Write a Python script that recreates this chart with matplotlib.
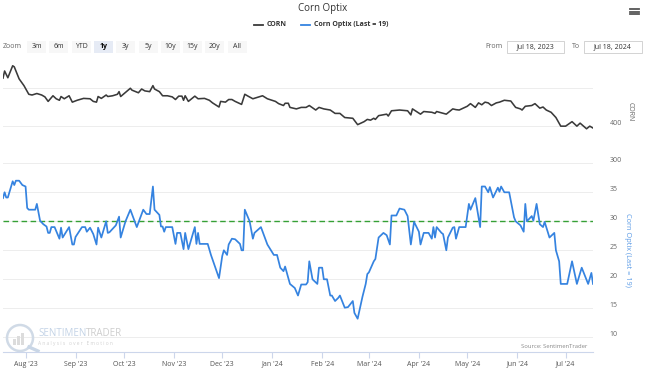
import pandas as pd
import matplotlib
matplotlib.use('Agg')
import matplotlib.pyplot as plt
import matplotlib.dates as mdates
import matplotlib.transforms as mtransforms
from matplotlib.lines import Line2D
from matplotlib.patches import Rectangle, Ellipse

plt.rcParams['font.family'] = ['Open Sans', 'DejaVu Sans']

START = pd.Timestamp('2023-07-18')
END = pd.Timestamp('2024-07-18')

# CORN (panel de arriba), dias desde START
corn_days = [0, 1, 3, 6, 7, 10, 13, 16, 18, 21,
             24, 26, 28, 31, 33, 35, 36, 38, 41, 43,
             46, 50, 54, 56, 58, 59, 61, 64, 65, 68,
             71, 72, 73, 76, 79, 80, 84, 86, 88, 91,
             93, 94, 97, 99, 102, 105, 107, 109, 111, 112,
             113, 115, 117, 119, 121, 125, 128, 130, 134, 135,
             138, 140, 142, 144, 148, 150, 152, 155, 161, 164,
             169, 171, 174, 175, 177, 178, 182, 185, 188, 190,
             194, 196, 199, 203, 206, 209, 212, 217, 220, 224,
             226, 228, 230, 231, 233, 238, 239, 241, 246, 251,
             253, 254, 259, 261, 266, 268, 269, 275, 279, 281,
             283, 288, 290, 293, 295, 297, 299, 301, 303, 306,
             308, 311, 315, 318, 321, 322, 324, 328, 330, 333,
             335, 337, 340, 343, 346, 349, 353, 356, 358, 362,
             364, 366]
corn_close = [527, 546, 528, 560, 557, 525, 507, 484, 482, 486,
              482, 477, 465, 480, 472, 468, 478, 472, 480, 463,
              468, 473, 472, 465, 463, 478, 473, 482, 478, 480,
              484, 491, 478, 489, 500, 495, 488, 498, 493, 491,
              507, 498, 491, 480, 480, 477, 470, 479, 479, 468,
              480, 465, 472, 479, 472, 473, 468, 461, 450, 465,
              463, 470, 470, 465, 457, 484, 479, 472, 480, 472,
              465, 459, 454, 460, 460, 449, 445, 449, 449, 454,
              442, 449, 445, 442, 433, 433, 422, 420, 403, 411,
              417, 415, 420, 417, 427, 431, 426, 440, 442, 440,
              429, 445, 431, 438, 436, 433, 438, 431, 445, 443,
              442, 452, 459, 449, 461, 456, 463, 461, 454, 461,
              463, 468, 466, 449, 445, 442, 452, 454, 459, 447,
              450, 442, 436, 422, 399, 399, 411, 399, 407, 392,
              399, 394]

# Corn Optix (panel de abajo)
optix_days = [0, 1, 2, 3, 6, 7, 8, 10, 12, 14,
              15, 16, 20, 21, 23, 25, 27, 28, 29, 30,
              32, 35, 36, 37, 41, 43, 44, 45, 49, 51,
              52, 54, 56, 58, 59, 61, 64, 65, 66, 70,
              72, 73, 76, 79, 83, 87, 89, 91, 93, 94,
              97, 98, 99, 100, 101, 105, 107, 108, 110, 112,
              113, 115, 119, 120, 121, 122, 127, 129, 131, 134,
              136, 137, 139, 140, 142, 144, 147, 148, 149, 150,
              153, 155, 156, 160, 164, 168, 170, 172, 174, 175,
              178, 181, 183, 185, 188, 189, 190, 192, 195, 196,
              198, 199, 201, 203, 204, 206, 208, 209, 212, 214,
              217, 218, 220, 223, 225, 226, 227, 230, 231, 233,
              236, 238, 240, 241, 244, 246, 249, 251, 253, 255,
              258, 259, 261, 264, 266, 267, 268, 269, 272, 273,
              275, 276, 279, 280, 281, 283, 287, 289, 290, 293,
              296, 297, 299, 301, 302, 304, 307, 308, 309, 311,
              314, 317, 318, 321, 323, 324, 325, 328, 329, 331,
              333, 335, 336, 339, 342, 343, 345, 346, 350, 353,
              356, 359, 363, 365, 366]
optix_value = [34.0, 35.0, 34.1, 34.1, 36.9, 36.25, 37.0, 37.0, 36.25, 36.0,
               32.3, 32.0, 32.0, 33.0, 30.1, 29.5, 29.1, 28.0, 28.0, 29.0,
               29.0, 27.0, 28.9, 27.2, 29.0, 26.0, 26.0, 27.3, 29.0, 29.0,
               28.2, 28.9, 27.8, 26.0, 28.9, 27.2, 30.0, 28.0, 28.1, 29.3,
               30.8, 27.2, 30.0, 32.0, 29.0, 32.0, 31.25, 31.25, 36.0, 32.0,
               31.1, 29.1, 29.1, 28.2, 29.0, 29.0, 26.1, 28.0, 28.0, 25.2,
               28.0, 25.2, 29.0, 26.1, 28.0, 26.1, 26.1, 24.2, 22.6, 20.2,
               24.0, 25.0, 24.2, 26.0, 27.0, 26.9, 26.1, 25.0, 25.0, 32.0,
               30.0, 27.0, 28.0, 29.0, 26.0, 24.2, 24.2, 22.0, 21.4, 22.2,
               19.2, 18.5, 17.2, 19.1, 19.1, 19.5, 23.1, 20.0, 19.2, 22.0,
               22.0, 20.0, 20.0, 17.2, 17.2, 16.25, 16.8, 17.2, 15.1, 15.2,
               16.25, 14.2, 13.2, 17.0, 19.2, 20.9, 21.2, 23.1, 23.5, 27.2,
               28.0, 27.6, 26.0, 31.0, 31.0, 32.2, 32.0, 30.9, 26.0, 29.9,
               28.2, 26.0, 28.0, 28.0, 27.0, 29.0, 27.2, 29.0, 28.0, 27.8,
               25.0, 27.2, 28.9, 29.0, 27.0, 29.0, 29.0, 33.0, 32.0, 34.0,
               29.0, 36.0, 36.0, 35.0, 35.9, 34.1, 35.8, 35.1, 36.0, 35.0,
               35.0, 30.7, 30.0, 29.3, 28.2, 33.0, 30.0, 30.9, 30.1, 33.0,
               29.5, 29.0, 29.9, 27.2, 28.0, 25.0, 23.1, 19.2, 19.2, 23.1,
               19.2, 22.0, 19.2, 21.1, 19.2]

optix_threshold = 30
corn_ticks = [300, 400, 500]
corn_labels = ['300', '400', '']
optix_ticks = [10, 15, 20, 25, 30, 35, 40]
optix_labels = ['10', '15', '20', '25', '30', '35', '']
zoom_buttons = ['3m', '6m', 'YTD', '1y', '3y', '5y', '10y', '15y', '20y', 'All']
selected_button = '1y'

W, H = 645, 372
GRID = '#ededed'
AXIS = '#ccd6eb'
DARK = '#333333'
BLUE = '#3583e0'


def fx(x):
  return x / W


def fy(y):
  return 1 - y / H


def toDates(days):
  return START + pd.to_timedelta(days, unit='D')


def styleAxis(ax, ticks, labels):
  for s in ax.spines.values():
    s.set_visible(False)
  ax.set_xlim(START, END)
  ax.yaxis.tick_right()
  ax.set_yticks(ticks)
  ax.set_yticklabels(labels)
  ax.tick_params(axis='y', length=0, pad=12, labelsize=5, labelcolor='#666666')
  ax.grid(axis='y', color=GRID, linewidth=0.7)
  ax.set_axisbelow(True)
  # etiquetas un poco encima de la grilla, como en highcharts
  off = mtransforms.ScaledTranslation(0, 3.5 / 100, ax.figure.dpi_scale_trans)
  for lbl in ax.get_yticklabels():
    lbl.set_transform(lbl.get_transform() + off)


fig = plt.figure(figsize=(W / 100, H / 100), dpi=100)

# panel CORN
ax1 = fig.add_axes([fx(3), fy(163.3), 590 / W, (163.3 - 62) / H])
ax1.plot(toDates(corn_days), corn_close, color='#3a3a3a', linewidth=1.15)
ax1.set_ylim(300, 570)
styleAxis(ax1, corn_ticks, corn_labels)
ax1.set_xticks([])

# panel Optix
ax2 = fig.add_axes([fx(3), fy(352.3), 590 / W, (352.3 - 163.3) / H])
ax2.plot(toDates(optix_days), optix_value, color=BLUE, linewidth=1.25, zorder=3)
ax2.axhline(optix_threshold, color='#35a035', linewidth=1.0, linestyle=(0, (4, 2.5)), zorder=2)
ax2.set_ylim(7.41, 40)
styleAxis(ax2, optix_ticks, optix_labels)
ax2.spines['bottom'].set_visible(True)
ax2.spines['bottom'].set_color(AXIS)
ax2.spines['bottom'].set_linewidth(0.8)
month_ticks = pd.date_range('2023-08-01', '2024-07-01', freq='MS')
ax2.set_xticks(month_ticks)
ax2.xaxis.set_major_formatter(mdates.DateFormatter("%b '%y"))
ax2.tick_params(axis='x', length=4, width=0.8, color=AXIS, pad=2, labelsize=5, labelcolor='#555555')

ax2.text(fx(587), fy(346), 'Source: SentimenTrader', transform=fig.transFigure,
         ha='right', va='center', fontsize=4.2, color='#888888')

# marca de agua
ax2.add_artist(Ellipse((fx(20), fy(338)), 26 / W, 26 / H, transform=fig.transFigure,
                       fill=False, edgecolor='#d0dae6', linewidth=1.8, zorder=1))
for i, hgt in enumerate([6, 9, 12]):
  ax2.add_artist(Rectangle((fx(13 + i * 4), fy(345)), 3 / W, hgt / H, transform=fig.transFigure,
                           facecolor='#dcdcdc', edgecolor='none', zorder=1))
ax2.add_artist(Line2D([fx(29), fx(38)], [fy(347), fy(351)], transform=fig.transFigure,
                      color='#c9d6e6', linewidth=2.4, zorder=1))
wm1 = ax2.text(fx(38), fy(334), 'SENTIMEN', transform=fig.transFigure, ha='left', va='center',
               fontsize=7, color='#c3d3e6', zorder=1)
renderer = fig.canvas.get_renderer()
bb = wm1.get_window_extent(renderer)
ax2.text(bb.x1 / fig.dpi / fig.get_figwidth(), fy(334), 'TRADER', transform=fig.transFigure,
         ha='left', va='center', fontsize=7, color='#cdcdcd', zorder=1)
ax2.text(fx(38), fy(343), 'A n a l y s i s   o v e r   E m o t i o n', transform=fig.transFigure,
         ha='left', va='center', fontsize=3.5, color='#d2d2d2', zorder=1)

# titulos de ejes
fig.text(fx(630), fy(112), 'CORN', rotation=270, ha='center', va='center', fontsize=5, color='#666666')
fig.text(fx(628), fy(250), 'Corn Optix (Last = 19)', rotation=270, ha='center', va='center',
         fontsize=5.3, color='#5b9be6')

# titulo y leyenda
fig.text(fx(323), fy(8), 'Corn Optix', ha='center', va='center', fontsize=7, color=DARK)
fig.add_artist(Line2D([fx(254), fx(263)], [fy(25), fy(25)], color='#3a3a3a', linewidth=1.3))
fig.text(fx(267), fy(25), 'CORN', ha='left', va='center', fontsize=5, fontweight='bold', color=DARK)
fig.add_artist(Line2D([fx(301), fx(310)], [fy(25), fy(25)], color=BLUE, linewidth=1.3))
fig.text(fx(314), fy(25), 'Corn Optix (Last = 19)', ha='left', va='center', fontsize=5,
         fontweight='bold', color=DARK)

# botones de zoom
fig.text(fx(3), fy(47), 'Zoom', ha='left', va='center', fontsize=5, color='#666666')
for i, name in enumerate(zoom_buttons):
  x0 = 27 + i * 22.3
  sel = name == selected_button
  fig.add_artist(Rectangle((fx(x0), fy(53.3)), 19 / W, 12.6 / H, transform=fig.transFigure,
                           facecolor='#e6ebf5' if sel else '#f7f7f7', edgecolor='none'))
  fig.text(fx(x0 + 9.5), fy(47), name, ha='center', va='center', fontsize=5,
           fontweight='bold' if sel else 'normal', color='#000000' if sel else '#333333')

# rango de fechas
fig.text(fx(502), fy(47), 'From', ha='right', va='center', fontsize=5, color='#666666')
fig.add_artist(Rectangle((fx(507), fy(53.3)), 57 / W, 12.6 / H, transform=fig.transFigure,
                         facecolor='white', edgecolor='#cccccc', linewidth=0.6))
fig.text(fx(535.5), fy(47), 'Jul 18, 2023', ha='center', va='center', fontsize=5, color='#333333')
fig.text(fx(580), fy(47), 'To', ha='right', va='center', fontsize=5, color='#666666')
fig.add_artist(Rectangle((fx(584), fy(53.3)), 58 / W, 12.6 / H, transform=fig.transFigure,
                         facecolor='white', edgecolor='#cccccc', linewidth=0.6))
fig.text(fx(613), fy(47), 'Jul 18, 2024', ha='center', va='center', fontsize=5, color='#333333')

# menu
for yy in [9, 11.5, 14]:
  fig.add_artist(Line2D([fx(630), fx(639)], [fy(yy), fy(yy)], color='#555555', linewidth=1.3))

fig.savefig('out.png', dpi=100)
